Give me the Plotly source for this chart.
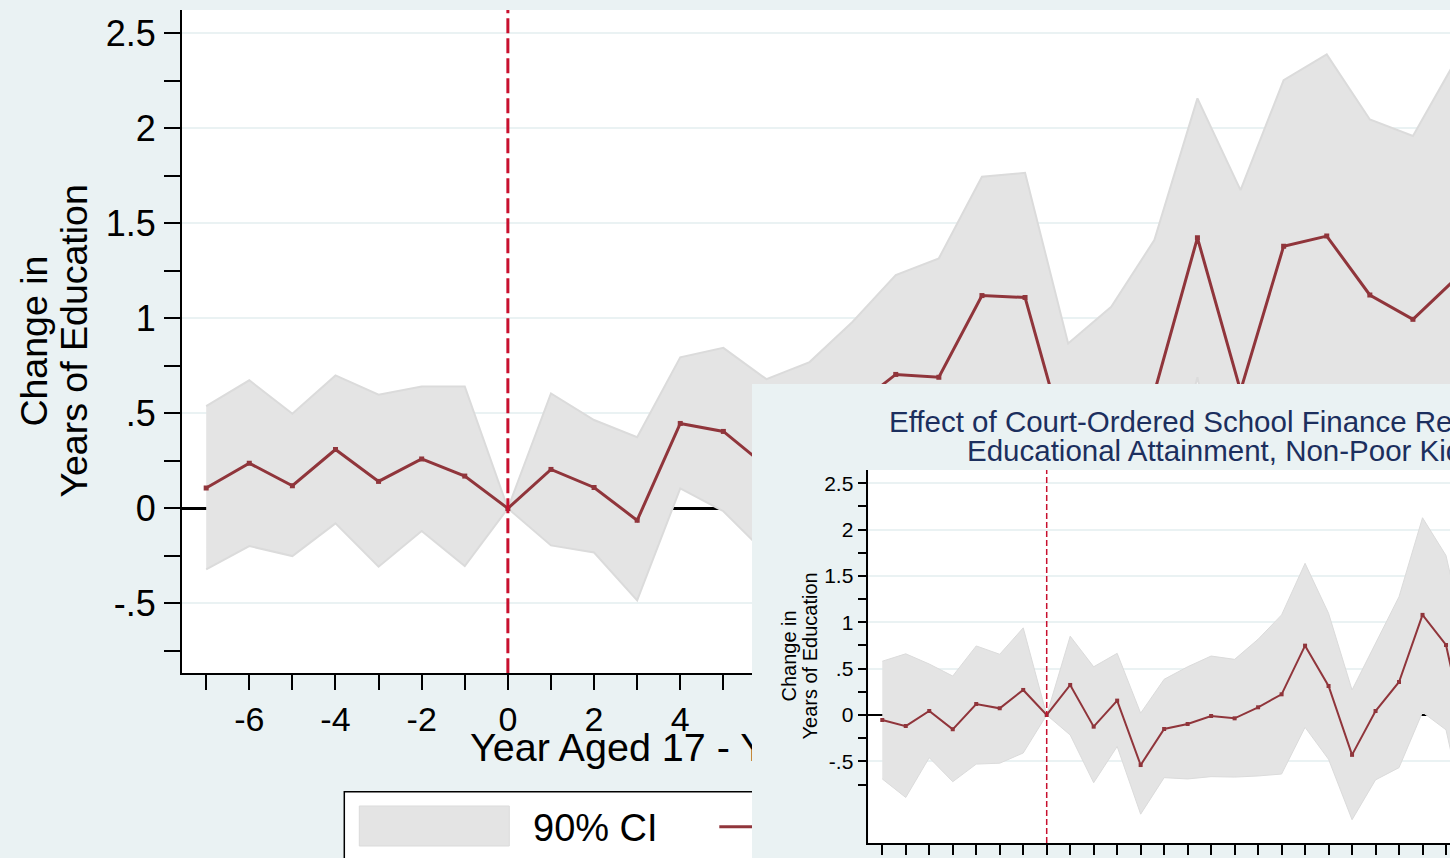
import plotly.graph_objects as go

# ---------------- data ----------------
# Main panel: event-time estimates, years -7 .. 22
years_all = list(range(-7, 23))
est_all = [0.107, 0.238, 0.119, 0.31, 0.142, 0.26, 0.17, 0.0,
           0.205, 0.11, -0.063, 0.447, 0.405, 0.22, 0.35, 0.53, 0.705, 0.69,
           1.12, 1.11, 0.30, 0.20, 0.61, 1.424, 0.62, 1.38, 1.433, 1.123, 0.995, 1.21]
hi_all = [0.538, 0.674, 0.498, 0.70, 0.598, 0.642, 0.642, 0.0,
          0.605, 0.465, 0.375, 0.795, 0.845, 0.68, 0.77, 0.982, 1.228, 1.316,
          1.745, 1.766, 0.868, 1.061, 1.412, 2.158, 1.675, 2.254, 2.389, 2.047, 1.96, 2.36]
lo_all = [-0.321, -0.198, -0.251, -0.079, -0.307, -0.119, -0.304, 0.0,
          -0.195, -0.232, -0.484, 0.105, -0.015, -0.24, -0.07, 0.078, 0.182, 0.064,
          0.495, 0.454, -0.268, -0.66, -0.192, 0.69, -0.435, 0.506, 0.477, 0.199, 0.03, 0.06]

# Inset panel: non-poor kids, years -7 .. 18
years_np = list(range(-7, 19))
est_np = [-0.054, -0.12, 0.043, -0.155, 0.118, 0.072, 0.27, 0.0,
          0.324, -0.126, 0.155, -0.54, -0.151, -0.097, -0.011, -0.036, 0.083,
          0.223, 0.748, 0.313, -0.43, 0.043, 0.356, 1.08, 0.755, -0.39]
hi_np = [0.58, 0.66, 0.55, 0.42, 0.745, 0.655, 0.94, 0.0,
         0.85, 0.52, 0.665, 0.02, 0.385, 0.52, 0.636, 0.60, 0.817,
         1.08, 1.636, 1.097, 0.27, 0.77, 1.276, 2.128, 1.72, 0.61]
lo_np = [-0.69, -0.89, -0.46, -0.72, -0.53, -0.52, -0.41, 0.0,
         -0.216, -0.73, -0.34, -1.07, -0.676, -0.69, -0.665, -0.67, -0.658,
         -0.637, -0.133, -0.478, -1.13, -0.70, -0.568, 0.03, -0.16, -1.3]

y_tickvals = [-0.5, 0, 0.5, 1, 1.5, 2, 2.5]
y_ticktext = ["-.5", "0", ".5", "1", "1.5", "2", "2.5"]
y_minorvals = [-0.75, -0.25, 0.25, 0.75, 1.25, 1.75, 2.25]
x_tickvals = list(range(-6, 23, 2))
x_ticktext = [str(v) for v in x_tickvals]
x_minorvals = list(range(-7, 23))

main_xrange = [-7.568, 21.86]
main_yrange = [-0.868, 2.623]
np_xrange = [-7.595, 17.17]
np_yrange = [-1.381, 2.643]

x_title = "Year Aged 17 - Year of Initial Court Order"
legend_ci = "90% CI"
inset_title = ["Effect of Court-Ordered School Finance Reform on",
               "Educational Attainment, Non-Poor Kids"]

# ---------------- styling ----------------
W, H = 1450, 858
BG = "#EAF2F3"
CI_FILL = "#E4E4E4"
CI_EDGE = "#DBDBDB"
EST = "#90353B"
VLINE = "#C8102E"
NAVY = "#1C2F5E"
FONT = "Liberation Sans, Arial, Helvetica, sans-serif"


def px_x(v):
    return v / W


def px_y(v):
    return (H - v) / H


def band(xs, lo, hi, xa, ya, lw):
    return go.Scatter(x=xs + xs[::-1], y=hi + lo[::-1], mode="lines",
                      fill="toself", fillcolor=CI_FILL,
                      line=dict(color=CI_EDGE, width=lw),
                      xaxis=xa, yaxis=ya, hoverinfo="skip", showlegend=False)


def backdrop(xa, ya):
    return go.Scatter(x=[0, 1, 1, 0, 0], y=[0, 0, 1, 1, 0], mode="lines",
                      fill="toself", fillcolor=BG, line=dict(width=0, color=BG),
                      xaxis=xa, yaxis=ya, hoverinfo="skip", showlegend=False)


fig = go.Figure()

# main panel (x / y)
fig.add_trace(band(years_all, lo_all, hi_all, "x", "y", 2))
fig.add_trace(go.Scatter(x=years_all, y=est_all, mode="lines+markers",
                         line=dict(color=EST, width=3),
                         marker=dict(symbol="square", size=5, color=EST),
                         xaxis="x", yaxis="y", showlegend=False))
fig.add_trace(go.Scatter(x=[0, 0], y=main_yrange, mode="lines",
                         line=dict(color=VLINE, width=3, dash="15px,5px"),
                         xaxis="x", yaxis="y", showlegend=False))

# thin strip under the main panel carrying its x-axis title (x2 / y2);
# the title text is allowed to spill outside the strip
fig.add_trace(backdrop("x2", "y2"))
fig.add_trace(go.Scatter(x=[0.0], y=[0.5], mode="text", text=[x_title],
                         textposition="middle right", cliponaxis=False,
                         textfont=dict(size=39.5, color="black", family=FONT),
                         xaxis="x2", yaxis="y2", showlegend=False, hoverinfo="skip"))

# inset backdrop (x3 / y3)
fig.add_trace(backdrop("x3", "y3"))

# inset panel (x4 / y4)
fig.add_trace(band(years_np, lo_np, hi_np, "x4", "y4", 1))
fig.add_trace(go.Scatter(x=years_np, y=est_np, mode="lines+markers",
                         line=dict(color=EST, width=2),
                         marker=dict(symbol="square", size=4, color=EST),
                         xaxis="x4", yaxis="y4", showlegend=False))
fig.add_trace(go.Scatter(x=[0, 0], y=np_yrange, mode="lines",
                         line=dict(color=VLINE, width=1.5, dash="6px,3px"),
                         xaxis="x4", yaxis="y4", showlegend=False))

tick_common = dict(ticks="outside", tickcolor="black", tickwidth=1.5,
                   showline=True, linecolor="black", linewidth=1.5)
hidden = dict(range=[0, 1], visible=False, fixedrange=True)

fig.update_layout(
    width=W, height=H,
    margin=dict(l=0, r=0, t=0, b=0),
    paper_bgcolor=BG, plot_bgcolor="white",
    font=dict(family=FONT, color="black"),
    showlegend=False,
    xaxis=dict(domain=[px_x(181.7), 1], range=main_xrange,
               tickmode="array", tickvals=x_tickvals, ticktext=x_ticktext,
               ticklen=15, tickfont=dict(size=34), ticklabelstandoff=0,
               minor=dict(tickmode="array", tickvals=x_minorvals, ticks="outside",
                          ticklen=15, tickwidth=1.5, tickcolor="black", showgrid=False),
               showgrid=False, zeroline=False, **tick_common),
    yaxis=dict(domain=[px_y(673.3), px_y(10)], range=main_yrange,
               tickmode="array", tickvals=y_tickvals, ticktext=y_ticktext,
               ticklen=16, tickfont=dict(size=36), ticklabelstandoff=1,
               minor=dict(tickmode="array", tickvals=y_minorvals, ticks="outside",
                          ticklen=16, tickwidth=1.5, tickcolor="black", showgrid=False),
               showgrid=True, gridcolor=BG, gridwidth=2,
               zeroline=True, zerolinecolor="black", zerolinewidth=3, **tick_common),
    xaxis2=dict(domain=[px_x(470), px_x(1100)], anchor="y2", **hidden),
    yaxis2=dict(domain=[px_y(754), px_y(748)], anchor="x2", **hidden),
    xaxis3=dict(domain=[px_x(752), 1], anchor="y3", **hidden),
    yaxis3=dict(domain=[0, px_y(384)], anchor="x3", **hidden),
    xaxis4=dict(domain=[px_x(868.3), 1], range=np_xrange, anchor="y4",
                tickmode="linear", tick0=0, dtick=1, ticklen=10,
                showticklabels=False, showgrid=False, zeroline=False, **tick_common),
    yaxis4=dict(domain=[px_y(843), px_y(470)], range=np_yrange, anchor="x4",
                tickmode="array", tickvals=y_tickvals, ticktext=y_ticktext,
                ticklen=9, tickfont=dict(size=21), ticklabelstandoff=0,
                minor=dict(tickmode="array", tickvals=y_minorvals, ticks="outside",
                           ticklen=9, tickwidth=1.5, tickcolor="black", showgrid=False),
                showgrid=True, gridcolor=BG, gridwidth=1.5,
                zeroline=True, zerolinecolor="black", zerolinewidth=2, **tick_common),
)

# legend of the main panel (partly covered by the inset)
fig.add_shape(type="rect", xref="paper", yref="paper", layer="below",
              x0=px_x(344.3), x1=0.66, y0=-0.05, y1=px_y(791.7),
              fillcolor="white", line=dict(color="black", width=1.5))
fig.add_shape(type="rect", xref="paper", yref="paper", layer="below",
              x0=px_x(359.3), x1=px_x(509.3), y0=px_y(846), y1=px_y(806),
              fillcolor=CI_FILL, line=dict(color=CI_EDGE, width=1))
fig.add_shape(type="line", xref="paper", yref="paper", layer="below",
              x0=px_x(719.3), x1=0.62, y0=px_y(826.7), y1=px_y(826.7),
              line=dict(color=EST, width=3))
fig.add_annotation(text=legend_ci, x=px_x(531), y=px_y(828), xref="paper", yref="paper",
                   xanchor="left", yanchor="middle", showarrow=False,
                   font=dict(size=38, color="black"))

# y titles (two lines each, tight spacing)
for txt, xc, yc, size in [("Change in", 34, 341.6, 37.5),
                          ("Years of Education", 74, 341.6, 37.5),
                          ("Change in", 788, 656.5, 20),
                          ("Years of Education", 809, 656.5, 20)]:
    fig.add_annotation(text=txt, x=px_x(xc), y=px_y(yc), xref="paper", yref="paper",
                       xanchor="center", yanchor="middle", textangle=-90,
                       showarrow=False, font=dict(size=size, color="black"))

# inset title
for txt, xl, yc in [(inset_title[0], 887, 421.7),
                    (inset_title[1], 965, 450.7)]:
    fig.add_annotation(text=txt, x=px_x(xl), y=px_y(yc), xref="paper", yref="paper",
                       xanchor="left", yanchor="middle", showarrow=False,
                       font=dict(size=29.5, color=NAVY))

fig.write_html("out.html")
